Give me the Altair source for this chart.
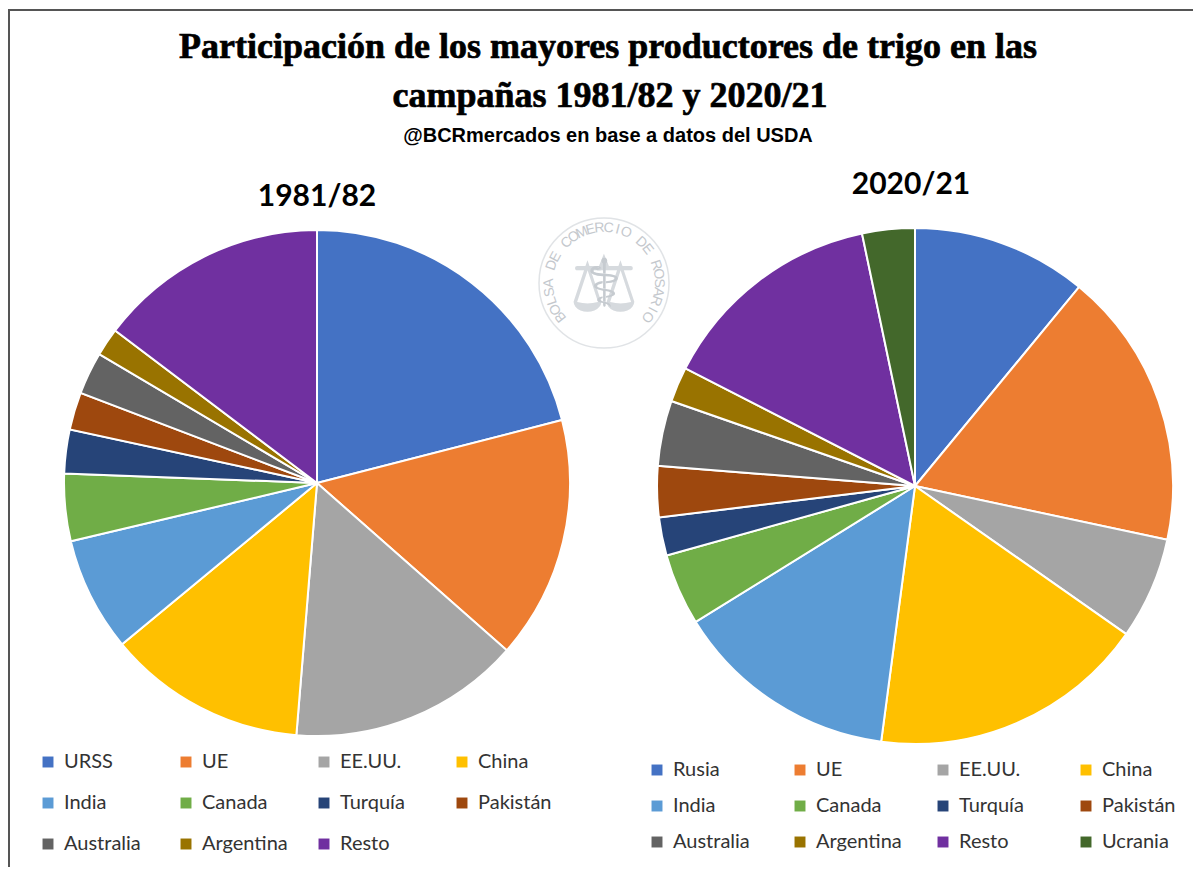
import math
import altair as alt
import pandas as pd

OX, OY = 8, 8  # page margin

names_a = ["URSS","UE","EE.UU.","China","India","Canada","Turquía","Pakistán","Australia","Argentina","Resto"]
vals_a = [21.0,15.5,14.8,12.7,7.3,4.3,2.8,2.4,2.7,1.8,14.7]
names_b = ["Rusia","UE","EE.UU.","China","India","Canada","Turquía","Pakistán","Australia","Argentina","Resto","Ucrania"]
vals_b = [11.0,17.4,6.4,17.4,14.1,4.5,2.4,3.2,4.1,2.2,14.2,3.3]
colors = ["#4472C4","#ED7D31","#A5A5A5","#FFC000","#5B9BD5","#70AD47","#264478","#9E480E","#636363","#997300","#7030A0","#43682B"]

title_lines = ["Participación de los mayores productores de trigo en las", "campañas 1981/82 y 2020/21"]
subtitle = "@BCRmercados en base a datos del USDA"
seal = "BOLSA DE COMERCIO DE ROSARIO"


def px(x): return alt.value(x - OX)
def py(y): return alt.value(y - OY)


def pie(names, vals, cx, cy, r, lx, ly, colpad, rowpad):
    df = pd.DataFrame({"p": names, "v": vals, "i": range(len(names))})
    return alt.Chart(df).mark_arc(outerRadius=r, stroke="white", strokeWidth=2).encode(
        x=px(cx), y=py(cy),
        theta=alt.Theta("v:Q", stack=True),
        order=alt.Order("i:Q"),
        color=alt.Color("p:N", scale=alt.Scale(domain=names, range=colors[:len(names)]),
                        legend=alt.Legend(title=None, orient="none", legendX=lx - OX, legendY=ly - OY,
                                          direction="horizontal", columns=4, gridAlign="all",
                                          symbolType="square", symbolSize=120, symbolStrokeWidth=0,
                                          labelFont="Lato", labelFontSize=20, labelColor="#333333",
                                          labelOffset=6, columnPadding=colpad, rowPadding=rowpad,
                                          labelLimit=200)),
    )


def text(s, x, y, size, font, weight="bold", stroke=None, color="black"):
    kw = dict(stroke=stroke, strokeWidth=0.7) if stroke else {}
    return alt.Chart(pd.DataFrame({"t": [s]})).mark_text(
        font=font, fontSize=size, fontWeight=weight, color=color, align="center", baseline="middle", **kw
    ).encode(text="t:N", x=px(x), y=py(y))


# Watermark
scx, scy, sr = 604, 283, 65
ring = alt.Chart(pd.DataFrame({"a": [1]})).mark_point(
    shape="circle", size=(2 * sr) ** 2, filled=False, stroke="#d4d8dc", strokeWidth=1.5
).encode(x=px(scx), y=py(scy))
n = len(seal)
start, end = -128, 128
chars = pd.DataFrame({
    "c": list(seal),
    "t": [(start + (end - start) * i / (n - 1)) % 360 for i in range(n)],
    "a": [(start + (end - start) * i / (n - 1)) % 360 for i in range(n)],
})
seal_text = alt.Chart(chars).mark_text(
    font="Liberation Sans", fontSize=14, color="#c4c8cd", align="center", baseline="middle"
).encode(
    x=px(scx), y=py(scy), text="c:N",
    theta=alt.Theta("t:Q", scale=alt.Scale(domain=[0, 360], range=[0, 2 * math.pi])),
    radius=alt.value(55),
    angle=alt.Angle("a:Q", scale=None),
)
emblem1 = text("⚖", scx, scy + 5, 78, "DejaVu Sans", "normal", color="#d6dade")
emblem2 = text("⚕", scx, scy + 3, 66, "DejaVu Sans", "normal", color="#c6cbd0")

frame = alt.Chart(pd.DataFrame({"a": [1]})).mark_rect(
    fill="white", stroke="#555555", strokeWidth=2
).encode(x=px(9), x2=px(1300), y=py(10), y2=py(1000))

chart = alt.layer(
    frame,
    ring, seal_text, emblem1, emblem2,
    pie(names_a, vals_a, 317, 483, 253, 38, 752, 26, 21),
    pie(names_b, vals_b, 915, 486, 258, 647, 760, 31, 16),
    text(title_lines[0], 608, 47, 36, "Liberation Sans Narrow", stroke="black"),
    text(title_lines[1], 610, 96, 36, "Liberation Sans Narrow", stroke="black"),
    text(subtitle, 608, 136, 20, "Liberation Sans"),
    text("1981/82", 317, 197, 30, "Lato", "bold"),
    text("2020/21", 911, 185, 30, "Lato", "bold"),
).resolve_scale(color="independent", theta="independent").properties(
    width=1185, height=859, padding=0, autosize=alt.AutoSizeParams(type="none")
).configure_view(stroke=None)

chart.save("out.html", embed_options={"renderer": "svg", "actions": False})
